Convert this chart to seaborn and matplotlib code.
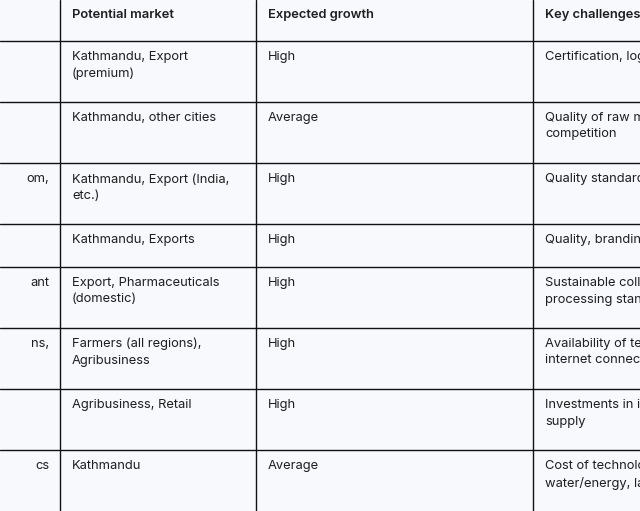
import matplotlib
matplotlib.use("Agg")
import matplotlib.pyplot as plt
import seaborn as sns

headers = ["", "Potential market", "Expected growth", "Key challenges"]
first_col = ["", "", "om,", "", "ant", "ns,", "", "cs"]
markets = ["Kathmandu, Export\n(premium)", "Kathmandu, other cities", "Kathmandu, Export (India,\netc.)",
           "Kathmandu, Exports", "Export, Pharmaceuticals\n(domestic)", "Farmers (all regions),\nAgribusiness",
           "Agribusiness, Retail", "Kathmandu"]
growth = ["High", "Average", "High", "High", "High", "High", "High", "Average"]
challenges = ["Certification, logistics", "Quality of raw materials,\ncompetition", "Quality standards",
              "Quality, branding", "Sustainable collection,\nprocessing standards",
              "Availability of technology,\ninternet connectivity", "Investments in infrastructure,\nsupply",
              "Cost of technology,\nwater/energy, land"]

sns.set_theme(style="white")
plt.rcParams['font.family'] = ['Inter', 'DejaVu Sans']

bg = "#f8f9fd"
fig = plt.figure(figsize=(6.4, 5.11), dpi=100, facecolor=bg)
ax = fig.add_axes([0, 0, 1, 1], facecolor=bg)
ax.set_xlim(0, 640)
ax.set_ylim(511, 0)
ax.axis("off")

col_x = [60, 256, 533]
row_y = [41, 102, 163, 224, 267, 328, 389, 450]
for x in col_x:
    ax.axvline(x, color="#111111", lw=1.0)
for y in row_y:
    ax.axhline(y, color="#111111", lw=1.0)

txt = "#1f1f1f"
fs = 9.3
text_x = [49, 72, 268, 545]
for i, h in enumerate(headers[1:], start=1):
    ax.text(text_x[i], 15, h, fontsize=fs, fontweight="semibold", color=txt, va="center", ha="left")

for r in range(len(markets)):
    y = row_y[r] + 10
    kw = dict(fontsize=fs, color=txt, va="top", linespacing=1.5)
    if first_col[r]:
        ax.text(text_x[0], y, first_col[r], ha="right", **kw)
    ax.text(text_x[1], y, markets[r], ha="left", **kw)
    ax.text(text_x[2], y, growth[r], ha="left", **kw)
    ax.text(text_x[3], y, challenges[r], ha="left", **kw)

fig.savefig("out.png", dpi=100, facecolor=bg)
